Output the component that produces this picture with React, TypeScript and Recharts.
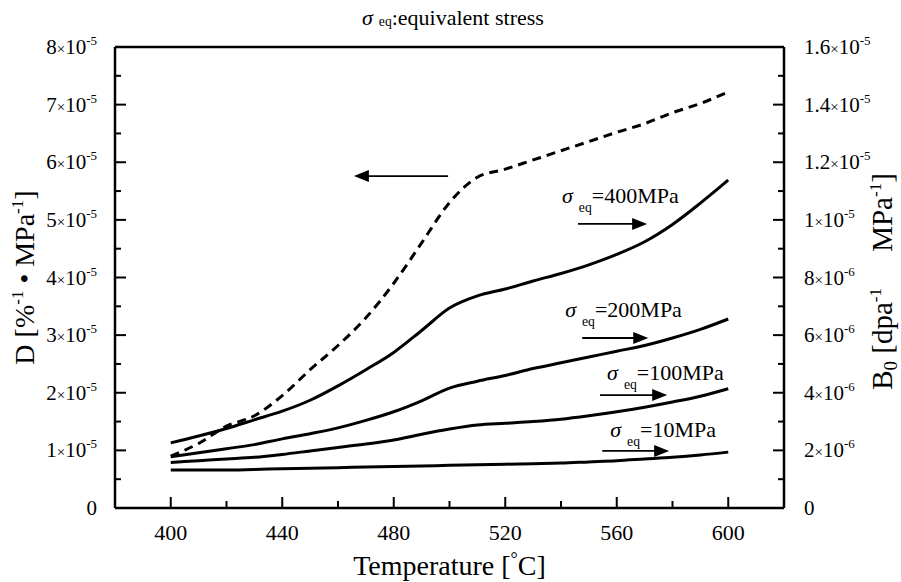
import { LineChart, Line, XAxis, YAxis, ReferenceLine } from 'recharts';

// Temperature [°C]
const temperature = [400, 410, 420, 430, 440, 450, 460, 470, 480, 490, 500, 510, 520, 530, 540, 550, 560, 570, 580, 590, 600];

// D [%^-1 · MPa^-1], in units of 1e-5 (left axis, dashed)
const dValues = [0.9, 1.12, 1.42, 1.6, 1.95, 2.4, 2.82, 3.3, 3.9, 4.6, 5.3, 5.74, 5.88, 6.04, 6.2, 6.36, 6.52, 6.67, 6.86, 7.02, 7.22];

// B0 [dpa^-1 MPa^-1], in units of 1e-6 (right axis, solid)
const b0At10 = [1.32, 1.32, 1.32, 1.34, 1.36, 1.38, 1.4, 1.42, 1.44, 1.46, 1.48, 1.5, 1.52, 1.54, 1.56, 1.6, 1.64, 1.7, 1.76, 1.84, 1.94];
const b0At100 = [1.58, 1.64, 1.7, 1.76, 1.86, 1.98, 2.1, 2.22, 2.36, 2.56, 2.74, 2.88, 2.94, 3.0, 3.08, 3.2, 3.34, 3.5, 3.68, 3.88, 4.14];
const b0At200 = [1.78, 1.92, 2.06, 2.2, 2.4, 2.58, 2.78, 3.04, 3.34, 3.72, 4.16, 4.4, 4.6, 4.84, 5.04, 5.24, 5.44, 5.64, 5.9, 6.2, 6.56];
const b0At400 = [2.26, 2.5, 2.76, 3.06, 3.36, 3.74, 4.24, 4.8, 5.4, 6.16, 6.94, 7.36, 7.6, 7.88, 8.14, 8.44, 8.8, 9.24, 9.84, 10.58, 11.38];

const xTicks = [400, 420, 440, 460, 480, 500, 520, 540, 560, 580, 600];
const leftTicks = [0, 0.5, 1, 1.5, 2, 2.5, 3, 3.5, 4, 4.5, 5, 5.5, 6, 6.5, 7, 7.5, 8];
const rightTicks = [0, 1, 2, 3, 4, 5, 6, 7, 8, 9, 10, 11, 12, 13, 14, 15, 16];

const rows = temperature.map((t, i) => ({
  t,
  d: dValues[i],
  s10: b0At10[i],
  s100: b0At100[i],
  s200: b0At200[i],
  s400: b0At400[i],
}));

const serif = { fontFamily: '"Liberation Serif", "DejaVu Serif", serif' };

function Sci({ mant, exp }: { mant: string; exp?: string }) {
  if (!exp) return <>{mant}</>;
  return (
    <>
      {mant}
      <tspan fontSize={15}>×</tspan>10
      <tspan fontSize={13} dy={-9}>{exp}</tspan>
    </>
  );
}

function BottomTick(props: any) {
  const { x, y, payload } = props;
  const v = payload.value;
  const major = (v - 400) % 40 === 0;
  return (
    <g>
      <line x1={x} y1={y} x2={x} y2={y - (major ? 11 : 7)} stroke="#000" strokeWidth={2} />
      {major && (
        <text x={x} y={y + 32} textAnchor="middle" fontSize={22} style={serif} fill="#000">
          {v}
        </text>
      )}
    </g>
  );
}

function TopTick(props: any) {
  const { x, y, payload } = props;
  const major = (payload.value - 400) % 40 === 0;
  return <line x1={x} y1={y} x2={x} y2={y + (major ? 11 : 7)} stroke="#000" strokeWidth={2} />;
}

function LeftTick(props: any) {
  const { x, y, payload } = props;
  const v = payload.value;
  const major = Number.isInteger(v);
  return (
    <g>
      <line x1={x} y1={y} x2={x + (major ? 11 : 6)} y2={y} stroke="#000" strokeWidth={2} />
      {major && (
        <text x={x - 18} y={y + 7} textAnchor="end" fontSize={21} style={serif} fill="#000">
          {v === 0 ? '0' : <Sci mant={String(v)} exp="-5" />}
        </text>
      )}
    </g>
  );
}

function RightTick(props: any) {
  const { x, y, payload } = props;
  const v = payload.value;
  const major = v % 2 === 0;
  let mant = '0';
  let exp: string | undefined;
  if (v >= 10) {
    mant = String(v / 10);
    exp = '-5';
  } else if (v > 0) {
    mant = String(v);
    exp = '-6';
  }
  return (
    <g>
      <line x1={x} y1={y} x2={x - (major ? 11 : 6)} y2={y} stroke="#000" strokeWidth={2} />
      {major && (
        <text x={x + 20} y={y + 7} textAnchor="start" fontSize={21} style={serif} fill="#000">
          <Sci mant={mant} exp={exp} />
        </text>
      )}
    </g>
  );
}

function SigmaEq({ x, y, rest, size, sub = 0.4 }: { x: number; y: number; rest: string; size: number; sub?: number }) {
  return (
    <text x={x} y={y} fontSize={size} style={serif} fill="#000">
      <tspan fontStyle="italic">σ</tspan>
      <tspan fontSize={size * 0.62} dx={6} dy={size * sub}>eq</tspan>
      <tspan dy={-size * sub}>{rest}</tspan>
    </text>
  );
}

function arrow(text?: string, dx = 0, dy = 0) {
  return (p: any) => {
    const { x1, y1, x2, y2 } = p;
    const dir = x2 > x1 ? 1 : -1;
    const head = 15;
    return (
      <g>
        <line x1={x1} y1={y1} x2={x2 - dir * head + dir} y2={y2} stroke="#000" strokeWidth={1.8} />
        <polygon
          points={`${x2},${y2} ${x2 - dir * head},${y2 - 6} ${x2 - dir * head},${y2 + 6}`}
          fill="#000"
        />
        {text && <SigmaEq x={x1 + dx} y={y1 + dy} rest={text} size={22} />}
      </g>
    );
  };
}

export default function App() {
  return (
    <div style={{ position: 'absolute', left: 0, top: 0, background: '#fff' }}>
      <LineChart width={901} height={582} data={rows} margin={{ top: 0, right: 0, bottom: 0, left: 0 }}>
        <XAxis
          dataKey="t"
          type="number"
          domain={[380, 620]}
          ticks={xTicks}
          interval={0}
          height={74}
          tickSize={0}
          tickMargin={0}
          tickLine={false}
          tick={BottomTick}
          axisLine={{ stroke: '#000', strokeWidth: 2.5 }}
          label={(p: any) => {
            const vb = p.viewBox;
            return (
              <text x={vb.x + vb.width / 2} y={vb.y + 67} textAnchor="middle" fontSize={28} style={serif} fill="#000">
                Temperature [<tspan fontSize={18} dy={-10}>°</tspan>
                <tspan dy={10}>C]</tspan>
              </text>
            );
          }}
        />
        <XAxis
          xAxisId="top"
          orientation="top"
          type="number"
          domain={[380, 620]}
          ticks={xTicks}
          interval={0}
          height={47}
          tickSize={0}
          tickMargin={0}
          tickLine={false}
          tick={TopTick}
          axisLine={{ stroke: '#000', strokeWidth: 2.5 }}
          label={(p: any) => {
            const vb = p.viewBox;
            return (
              <g>
                <SigmaEq x={vb.x + 247} y={25} rest=":equivalent stress" size={22} sub={0.05} />
              </g>
            );
          }}
        />
        <YAxis
          yAxisId="left"
          type="number"
          domain={[0, 8]}
          ticks={leftTicks}
          interval={0}
          width={115}
          tickSize={0}
          tickMargin={0}
          tickLine={false}
          tick={LeftTick}
          axisLine={{ stroke: '#000', strokeWidth: 2.5 }}
          label={(p: any) => {
            const vb = p.viewBox;
            const cy = vb.y + vb.height / 2;
            return (
              <text
                x={34}
                y={cy}
                transform={`rotate(-90, 34, ${cy})`}
                textAnchor="middle"
                fontSize={28}
                style={serif}
                fill="#000"
              >
                D [%<tspan fontSize={17} dy={-11}>-1</tspan>
                <tspan dy={11}> • MPa</tspan>
                <tspan fontSize={17} dy={-11}>-1</tspan>
                <tspan dy={11}>]</tspan>
              </text>
            );
          }}
        />
        <YAxis
          yAxisId="right"
          orientation="right"
          type="number"
          domain={[0, 16]}
          ticks={rightTicks}
          interval={0}
          width={117}
          tickSize={0}
          tickMargin={0}
          tickLine={false}
          tick={RightTick}
          axisLine={{ stroke: '#000', strokeWidth: 2.5 }}
          label={(p: any) => {
            const vb = p.viewBox;
            const cy = vb.y + vb.height / 2 + 4;
            return (
              <text
                x={892}
                y={cy}
                transform={`rotate(-90, 892, ${cy})`}
                textAnchor="middle"
                fontSize={29}
                style={serif}
                fill="#000"
              >
                B<tspan fontSize={19} dy={5}>0</tspan>
                <tspan dy={-5}> [dpa</tspan>
                <tspan fontSize={17} dy={-11}>-1</tspan>
                <tspan dy={11}>{'\u00a0\u00a0\u00a0\u00a0\u00a0MPa'}</tspan>
                <tspan fontSize={17} dy={-11}>-1</tspan>
                <tspan dy={11}>]</tspan>
              </text>
            );
          }}
        />

        <Line yAxisId="left" dataKey="d" type="monotone" stroke="#000" strokeWidth={3} strokeDasharray="9 6" dot={false} isAnimationActive={false} />
        <Line yAxisId="right" dataKey="s400" type="monotone" stroke="#000" strokeWidth={3} dot={false} isAnimationActive={false} />
        <Line yAxisId="right" dataKey="s200" type="monotone" stroke="#000" strokeWidth={3} dot={false} isAnimationActive={false} />
        <Line yAxisId="right" dataKey="s100" type="monotone" stroke="#000" strokeWidth={3} dot={false} isAnimationActive={false} />
        <Line yAxisId="right" dataKey="s10" type="monotone" stroke="#000" strokeWidth={3} dot={false} isAnimationActive={false} />

        <ReferenceLine yAxisId="left" segment={[{ x: 499.5, y: 5.76 }, { x: 465.7, y: 5.76 }]} shape={arrow()} />
        <ReferenceLine yAxisId="right" segment={[{ x: 546.1, y: 9.86 }, { x: 570.9, y: 9.86 }]} shape={arrow('=400MPa', -16, -21)} />
        <ReferenceLine yAxisId="right" segment={[{ x: 547.6, y: 5.9 }, { x: 571.3, y: 5.9 }]} shape={arrow('=200MPa', -17, -21)} />
        <ReferenceLine yAxisId="right" segment={[{ x: 554.0, y: 3.92 }, { x: 578.1, y: 3.92 }]} shape={arrow('=100MPa', 7, -15)} />
        <ReferenceLine yAxisId="right" segment={[{ x: 554.8, y: 1.98 }, { x: 578.8, y: 1.98 }]} shape={arrow('=10MPa', 8, -14)} />
      </LineChart>
    </div>
  );
}
